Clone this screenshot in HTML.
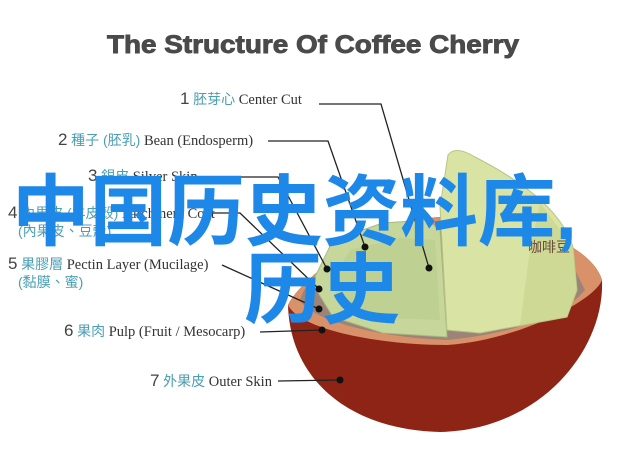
<!DOCTYPE html>
<html><head><meta charset="utf-8"><style>
html,body{margin:0;padding:0;background:#fff;}
svg{display:block}
.l{font-family:"Liberation Serif","Noto Serif CJK SC",serif;font-size:14.5px;fill:#333}
.c{fill:#4a9fb5;font-family:"Liberation Sans","Noto Sans CJK TC",sans-serif;font-size:14px}
.n{font-family:"Liberation Sans",sans-serif;font-size:17px;fill:#444}
</style></head><body>
<svg width="640" height="469" viewBox="0 0 640 469" xmlns="http://www.w3.org/2000/svg">
<rect width="640" height="469" fill="#fff"/>
<text x="313" y="53" text-anchor="middle" font-family="Liberation Sans,sans-serif" font-weight="bold" font-size="25" fill="#4a4a4a" stroke="#4a4a4a" stroke-width="0.9" textLength="412" lengthAdjust="spacingAndGlyphs">The Structure Of  Coffee Cherry</text>
<!-- bowl -->
<path d="M288,305 C300,280 360,232 427,218 C500,210 590,240 602,280 C605,350 540,430 440,432 C350,430 290,380 288,305Z" fill="#8e2416"/>
<path d="M288,305 C300,280 360,232 427,218 C500,210 590,240 602,280 C595,300 520,340 447,345 C380,345 300,330 288,305Z" fill="#d89168"/>
<path d="M300,300 C310,265 370,230 430,225 L560,240 L585,290 C560,320 500,335 447,340 C380,338 310,320 300,300Z" fill="#9c8478"/>
<!-- green half -->
<path d="M312,283 L333,240 L383,223 L427,220 L440,230 L447,337 L383,333 L333,317 Z" fill="#c7d79b" stroke="#aab880" stroke-width="1"/>
<path d="M330,285 L350,250 L400,238 L435,240 L440,320 L390,318 L345,305Z" fill="#b8cc8c" opacity="0.6"/>
<!-- right wedge -->
<path d="M440,207 L448,155 Q455,145 475,157 C510,175 560,205 573,247 L577,290 L567,317 L480,333 L447,330 Z" fill="#d9e3a4" stroke="#b9c486" stroke-width="1"/>
<path d="M540,203 L573,247 L577,290 L567,317 L520,325 L530,250Z" fill="#c9d48f" opacity="0.7"/>
<!-- labels -->
<g class="l">
<text x="180" y="104"><tspan class="n">1</tspan> <tspan class="c">胚芽心</tspan>  Center Cut</text>
<text x="58" y="145"><tspan class="n">2</tspan> <tspan class="c">種子 (胚乳)</tspan> Bean (Endosperm)</text>
<text x="88" y="181"><tspan class="n">3</tspan> <tspan class="c">銀皮</tspan> Silver Skin</text>
<text x="8" y="218"><tspan class="n">4</tspan> <tspan class="c">內果皮 (羊皮殼)</tspan> Parchment Coat</text>
<text x="18" y="236" class="c">(內果皮、豆殼)</text>
<text x="8" y="269"><tspan class="n">5</tspan> <tspan class="c">果膠層</tspan> Pectin Layer (Mucilage)</text>
<text x="18" y="287" class="c">(黏膜、蜜)</text>
<text x="64" y="336"><tspan class="n">6</tspan> <tspan class="c">果肉</tspan> Pulp (Fruit / Mesocarp)</text>
<text x="150" y="386"><tspan class="n">7</tspan> <tspan class="c">外果皮</tspan> Outer Skin</text>
</g>
<text x="528" y="252" font-family="Liberation Sans,Noto Sans CJK SC,sans-serif" font-size="14" fill="#6a4a3a">咖啡豆</text>
<!-- leaders -->
<g stroke="#222" stroke-width="1.3" fill="none">
<polyline points="319,104 381,104 429,268"/>
<polyline points="268,141 328,141 365,247"/>
<polyline points="240,177 278,177 327,269"/>
<polyline points="210,213 240,213 319,289"/>
<polyline points="222,265 319,309"/>
<polyline points="260,332 322,330"/>
<polyline points="278,381 340,380"/>
</g>
<g fill="#111">
<circle cx="429" cy="268" r="3.5"/><circle cx="365" cy="247" r="3.5"/><circle cx="327" cy="269" r="3.5"/>
<circle cx="319" cy="289" r="3.5"/><circle cx="319" cy="309" r="3.5"/><circle cx="322" cy="330" r="3.5"/><circle cx="340" cy="380" r="3.5"/>
</g>
<!-- overlay -->
<g font-family="Liberation Sans,Noto Sans CJK SC,sans-serif" font-size="78" font-weight="bold" fill="#1e88e8">
<text x="12" y="239" textLength="565" lengthAdjust="spacingAndGlyphs">中国历史资料库,</text>
<text x="244" y="317">历史</text>
</g>
</svg>
</body></html>
